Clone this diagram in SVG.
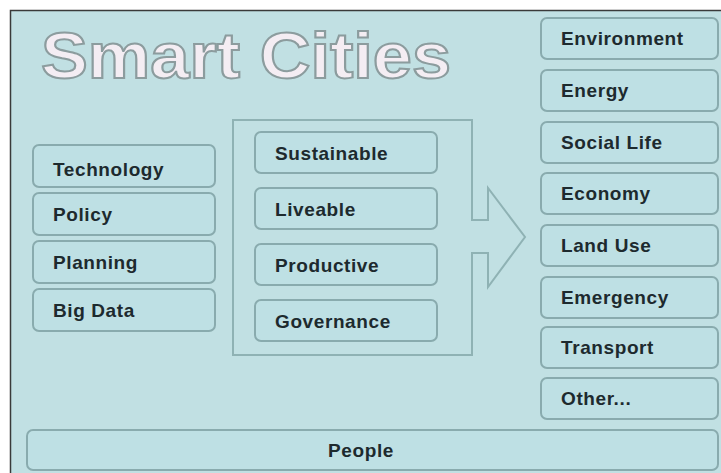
<svg xmlns="http://www.w3.org/2000/svg" width="721" height="473" viewBox="0 0 721 473">
  <style>
    .bg { fill: #c1e0e3; }
    .box { fill: #bee0e4; stroke: #89abae; stroke-width: 2; }
    .lbl { font-family: "Liberation Sans", Arial, sans-serif; font-weight: bold; font-size: 19px; fill: #1d2a2e; letter-spacing: 0.6px; }
    .title { font-family: "Liberation Sans", Arial, sans-serif; font-weight: bold; font-size: 64px; fill: #f4edf3; stroke: #8c9c9e; stroke-width: 2; }
    .frame { fill: none; stroke: #8fb2b4; stroke-width: 2; }
  </style>
  <rect x="0" y="0" width="721" height="473" fill="#ffffff"/>
  <rect class="bg" x="10" y="10" width="711" height="463"/>
  <path d="M10.5,473 V10.5 H721" fill="none" stroke="#3a3a3a" stroke-width="1.5"/>

  <g id="title">
    <text class="title" x="41" y="78" textLength="410" lengthAdjust="spacingAndGlyphs">Smart Cities</text>
  </g>

  <g id="inputs">
    <g id="technology"><rect class="box" x="33" y="145" width="182" height="42" rx="6"/><text class="lbl" x="53" y="176">Technology</text></g>
    <g id="policy"><rect class="box" x="33" y="193" width="182" height="42" rx="6"/><text class="lbl" x="53" y="221">Policy</text></g>
    <g id="planning"><rect class="box" x="33" y="241" width="182" height="42" rx="6"/><text class="lbl" x="53" y="269">Planning</text></g>
    <g id="bigdata"><rect class="box" x="33" y="289" width="182" height="42" rx="6"/><text class="lbl" x="53" y="317">Big Data</text></g>
  </g>

  <g id="connectors">
    <path class="frame" d="M233,120 H472 V220 H488 V188 L525,237 L488,287 V253 H472 V355 H233 Z"/>
  </g>

  <g id="qualities">
    <g id="sustainable"><rect class="box" x="255" y="132" width="182" height="41" rx="6"/><text class="lbl" x="275" y="160">Sustainable</text></g>
    <g id="liveable"><rect class="box" x="255" y="188" width="182" height="41" rx="6"/><text class="lbl" x="275" y="216">Liveable</text></g>
    <g id="productive"><rect class="box" x="255" y="244" width="182" height="41" rx="6"/><text class="lbl" x="275" y="272">Productive</text></g>
    <g id="governance"><rect class="box" x="255" y="300" width="182" height="41" rx="6"/><text class="lbl" x="275" y="328">Governance</text></g>
  </g>

  <g id="domains">
    <g id="environment"><rect class="box" x="541" y="18" width="177" height="41" rx="6"/><text class="lbl" x="561" y="45">Environment</text></g>
    <g id="energy"><rect class="box" x="541" y="70" width="177" height="41" rx="6"/><text class="lbl" x="561" y="97">Energy</text></g>
    <g id="sociallife"><rect class="box" x="541" y="122" width="177" height="41" rx="6"/><text class="lbl" x="561" y="149">Social Life</text></g>
    <g id="economy"><rect class="box" x="541" y="173" width="177" height="41" rx="6"/><text class="lbl" x="561" y="200">Economy</text></g>
    <g id="landuse"><rect class="box" x="541" y="225" width="177" height="41" rx="6"/><text class="lbl" x="561" y="252">Land Use</text></g>
    <g id="emergency"><rect class="box" x="541" y="277" width="177" height="41" rx="6"/><text class="lbl" x="561" y="304">Emergency</text></g>
    <g id="transport"><rect class="box" x="541" y="327" width="177" height="41" rx="6"/><text class="lbl" x="561" y="354">Transport</text></g>
    <g id="other"><rect class="box" x="541" y="378" width="177" height="41" rx="6"/><text class="lbl" x="561" y="405">Other...</text></g>
  </g>

  <g id="people">
    <rect class="box" x="27" y="430" width="691" height="40" rx="6"/>
    <text class="lbl" x="361" y="457" text-anchor="middle">People</text>
  </g>
</svg>
